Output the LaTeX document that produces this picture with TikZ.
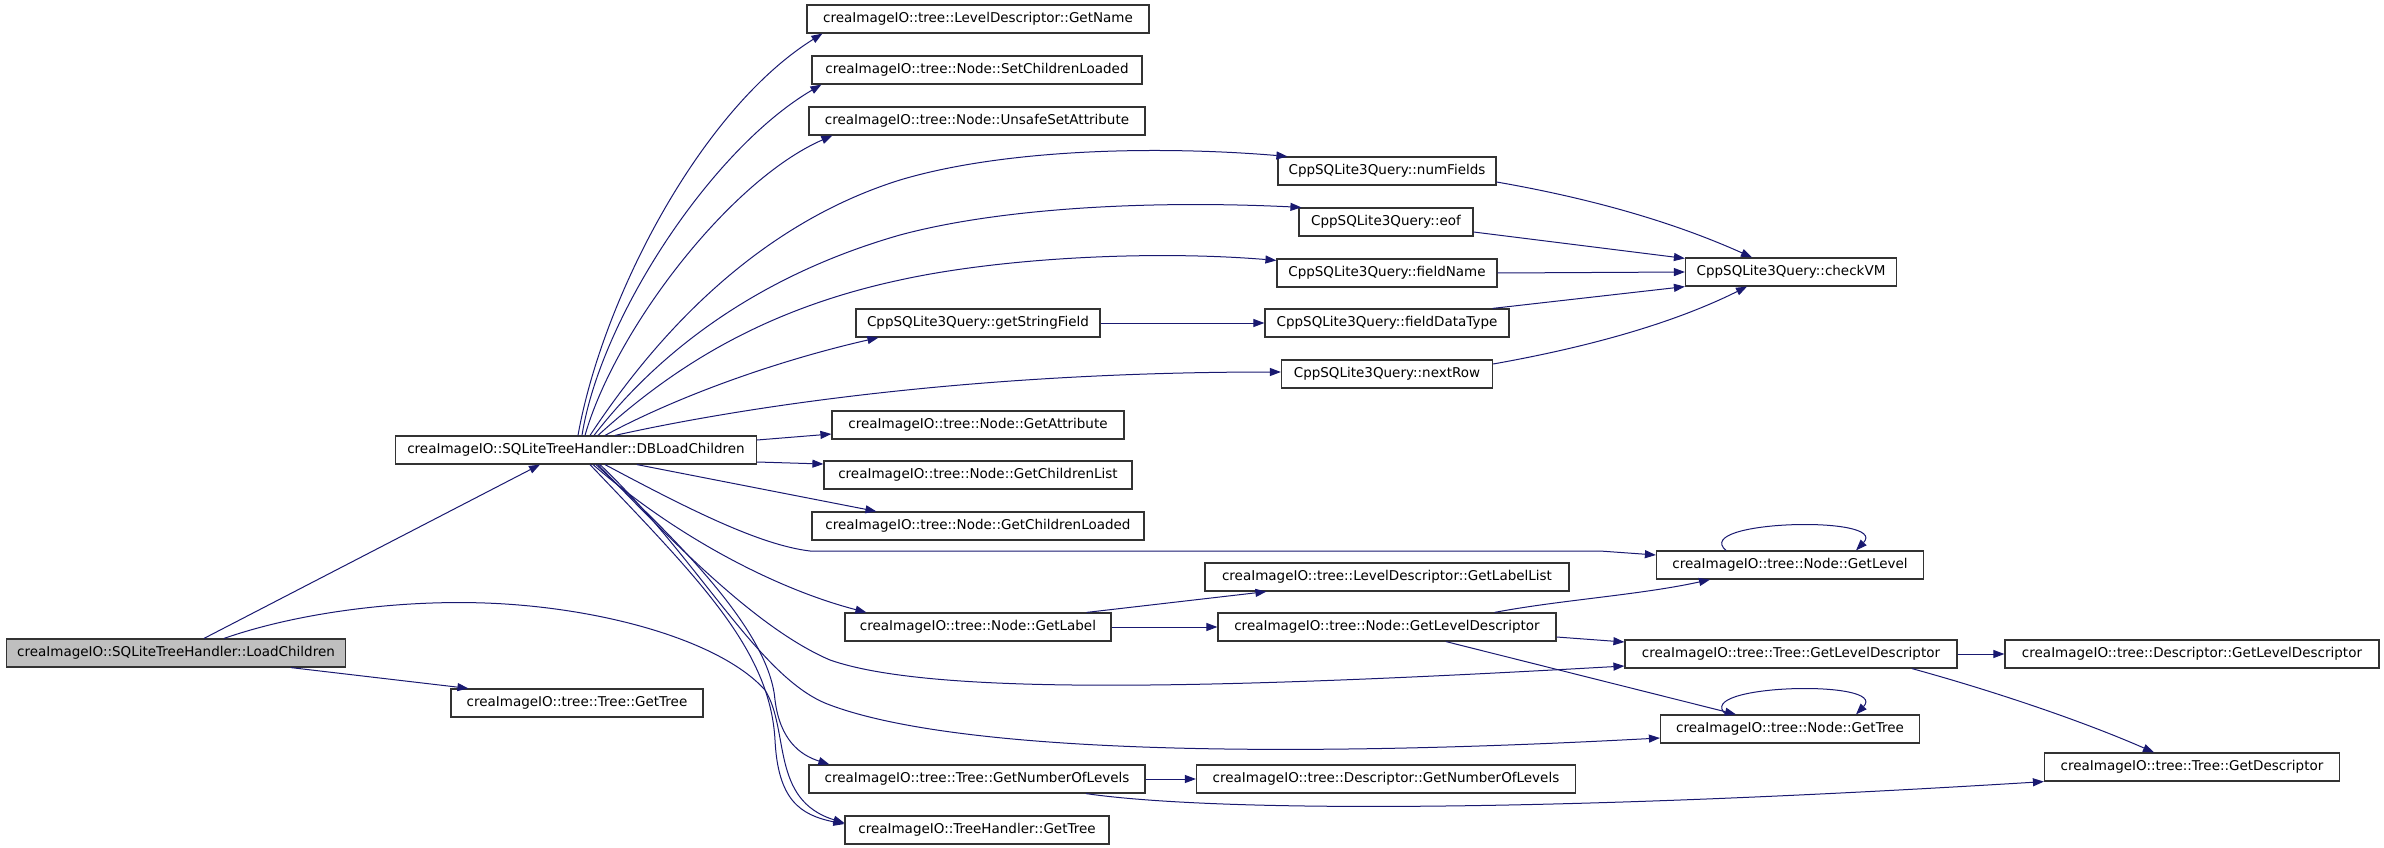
\documentclass[tikz,border=0pt]{standalone}
\usepackage{fontspec}
\setmainfont{DejaVu Sans}
\usetikzlibrary{arrows.meta}
\definecolor{edgeblue}{HTML}{191970}
\definecolor{rootgray}{HTML}{BFBFBF}

\begin{document}
\begin{tikzpicture}[x=1pt, y=-1pt, >={Triangle[length=11pt,width=8pt]},
  fn/.style={draw=black!80, line width=1.2pt, fill=white, minimum height=28pt, inner sep=0pt,
    font=\fontsize{13.5}{15}\selectfont},
  call/.style={->, edgeblue, line width=1pt}]
                \useasboundingbox (0,0) rectangle (2384,848);

                \node[fn, fill=rootgray, minimum width=339] (lc) at (176,653) {creaImageIO::SQLiteTreeHandler::LoadChildren};
                \node[fn, minimum width=361] (db) at (576,450) {creaImageIO::SQLiteTreeHandler::DBLoadChildren};
                \node[fn, minimum width=252] (tgt) at (577,703) {creaImageIO::tree::Tree::GetTree};

                \node[fn, minimum width=342] (ldName) at (978,19) {creaImageIO::tree::LevelDescriptor::GetName};
                \node[fn, minimum width=330] (setLoaded) at (977,70) {creaImageIO::tree::Node::SetChildrenLoaded};
                \node[fn, minimum width=336] (unsafeSet) at (977,121) {creaImageIO::tree::Node::UnsafeSetAttribute};
                \node[fn, minimum width=244] (getString) at (978,323) {CppSQLite3Query::getStringField};
                \node[fn, minimum width=292] (getAttr) at (978,425) {creaImageIO::tree::Node::GetAttribute};
                \node[fn, minimum width=308] (childList) at (978,475) {creaImageIO::tree::Node::GetChildrenList};
                \node[fn, minimum width=332] (childLoaded) at (978,526) {creaImageIO::tree::Node::GetChildrenLoaded};
                \node[fn, minimum width=266] (getLabel) at (978,627) {creaImageIO::tree::Node::GetLabel};
                \node[fn, minimum width=336] (treeNumLevels) at (977,779) {creaImageIO::tree::Tree::GetNumberOfLevels};
                \node[fn, minimum width=264] (thGetTree) at (977,830) {creaImageIO::TreeHandler::GetTree};

                \node[fn, minimum width=218] (numFields) at (1387,171) {CppSQLite3Query::numFields};
                \node[fn, minimum width=174] (eofQ) at (1386,222) {CppSQLite3Query::eof};
                \node[fn, minimum width=220] (fieldName) at (1387,273) {CppSQLite3Query::fieldName};
                \node[fn, minimum width=244] (fieldType) at (1387,323) {CppSQLite3Query::fieldDataType};
                \node[fn, minimum width=211] (nextRow) at (1387,374) {CppSQLite3Query::nextRow};
                \node[fn, minimum width=364] (labelList) at (1387,577) {creaImageIO::tree::LevelDescriptor::GetLabelList};
                \node[fn, minimum width=338] (nodeLevelDesc) at (1387,627) {creaImageIO::tree::Node::GetLevelDescriptor};
                \node[fn, minimum width=379] (descNumLevels) at (1386,779) {creaImageIO::tree::Descriptor::GetNumberOfLevels};

                \node[fn, minimum width=211] (checkVM) at (1791,272) {CppSQLite3Query::checkVM};
                \node[fn, minimum width=267] (getLevel) at (1790,565) {creaImageIO::tree::Node::GetLevel};
                \node[fn, minimum width=332] (treeLevelDesc) at (1791,654) {creaImageIO::tree::Tree::GetLevelDescriptor};
                \node[fn, minimum width=259] (nodeGetTree) at (1790,729) {creaImageIO::tree::Node::GetTree};
                \node[fn, minimum width=374] (descLevelDesc) at (2192,654) {creaImageIO::tree::Descriptor::GetLevelDescriptor};
                \node[fn, minimum width=295] (treeDesc) at (2192,767) {creaImageIO::tree::Tree::GetDescriptor};

                \draw[call] ([xshift=28]lc.north) -- ([xshift=-36]db.south);
                \draw[call] ([xshift=115]lc.south) -- ([xshift=18]tgt.north west);
                \draw[call] ([xshift=48]lc.north) .. controls (300,612) and (400,600) .. (485,603)
                    .. controls (600,607) and (720,640) .. (765,690)
                    .. controls (790,730) and (770,800) .. ([yshift=7]thGetTree.west);

                \draw[call] ([xshift=2]db.north) .. controls (602,300) and (700,110) .. ([xshift=16]ldName.south west);
                \draw[call] ([xshift=6]db.north) .. controls (600,320) and (710,150) .. ([xshift=10]setLoaded.south west);
                \draw[call] ([xshift=9]db.north) .. controls (615,330) and (730,180) .. ([xshift=24]unsafeSet.south west);
                \draw[call] ([xshift=14]db.north) .. controls (640,360) and (740,230) .. (900,180)
                    .. controls (1000,150) and (1150,145) .. ([xshift=10]numFields.north west);
                \draw[call] ([xshift=18]db.north) .. controls (660,350) and (760,275) .. (900,235)
                    .. controls (1000,208) and (1150,200) .. ([xshift=3]eofQ.north west);
                \draw[call] ([xshift=22]db.north) .. controls (670,370) and (760,310) .. (900,280)
                    .. controls (1000,258) and (1150,250) .. ([yshift=-2]fieldName.north west);
                \draw[call] ([xshift=29]db.north) .. controls (680,395) and (780,360) .. ([xshift=23]getString.south west);
                \draw[call] ([xshift=39]db.north) .. controls (720,412) and (950,372) .. ([yshift=2]nextRow.west);
                \draw[call] ([yshift=10]db.east) -- ([yshift=-9]getAttr.west);
                \draw[call] ([yshift=-12]db.east) -- ([yshift=11]childList.west);
                \draw[call] ([xshift=61]db.south) -- ([xshift=65]childLoaded.north west);
                \draw[call] ([xshift=29]db.south) .. controls (690,510) and (760,545) .. (810,551)
                    -- (1600,551) -- ([yshift=10]getLevel.west);
                \draw[call] ([xshift=17]db.south) .. controls (680,540) and (780,590) .. ([xshift=22]getLabel.north west);
                \draw[call] ([xshift=22]db.south) .. controls (680,550) and (760,630) .. (830,660)
                    .. controls (930,695) and (1200,690) .. ([yshift=-12]treeLevelDesc.west);
                \draw[call] ([xshift=24]db.south) .. controls (700,560) and (760,680) .. (830,705)
                    .. controls (950,750) and (1250,760) .. ([yshift=-9]nodeGetTree.west);
                \draw[call] ([xshift=20]db.south) .. controls (700,560) and (770,640) .. (775,700)
                    .. controls (780,740) and (800,755) .. ([xshift=21]treeNumLevels.north west);
                \draw[call] ([xshift=14]db.south) .. controls (700,580) and (770,650) .. (775,740)
                    .. controls (778,800) and (800,815) .. ([yshift=6]thGetTree.west);

                \draw[call] ([yshift=-11]numFields.east) .. controls (1600,200) and (1680,225) .. ([xshift=-39]checkVM.north);
                \draw[call] ([yshift=-10]eofQ.east) -- ([yshift=-1]checkVM.north west);
                \draw[call] (fieldName.east) -- (checkVM.west);
                \draw[call] ([xshift=-17]fieldType.north east) -- (checkVM.south west);
                \draw[call] ([yshift=10]nextRow.east) .. controls (1600,345) and (1680,320) .. ([xshift=-44]checkVM.south);
                \draw[call] (getString.east) -- (fieldType.west);

                \draw[call] ([xshift=-25]getLabel.north east) -- ([xshift=62]labelList.south west);
                \draw[call] (getLabel.east) -- (nodeLevelDesc.west);
                \draw[call] ([xshift=-62]nodeLevelDesc.north east) .. controls (1560,600) and (1640,595) .. ([xshift=-80]getLevel.south);
                \draw[call] ([yshift=-10]nodeLevelDesc.east) -- ([yshift=12]treeLevelDesc.west);
                \draw[call] ([xshift=59]nodeLevelDesc.south) -- ([xshift=-54]nodeGetTree.north);

                \draw[call] ([xshift=-64]getLevel.north) .. controls (1690,520) and (1890,515) .. ([xshift=66]getLevel.north);
                \draw[call] ([xshift=-64]nodeGetTree.north) .. controls (1690,684) and (1890,679) .. ([xshift=66]nodeGetTree.north);

                \draw[call] (treeLevelDesc.east) -- (descLevelDesc.west);
                \draw[call] ([xshift=121]treeLevelDesc.south) .. controls (1990,690) and (2080,720) .. ([xshift=-38]treeDesc.north);
                \draw[call] (treeNumLevels.east) -- (descNumLevels.west);
                \draw[call] ([xshift=109]treeNumLevels.south) .. controls (1200,810) and (1500,815) .. (treeDesc.south west);
            \end{tikzpicture}
\end{document}
